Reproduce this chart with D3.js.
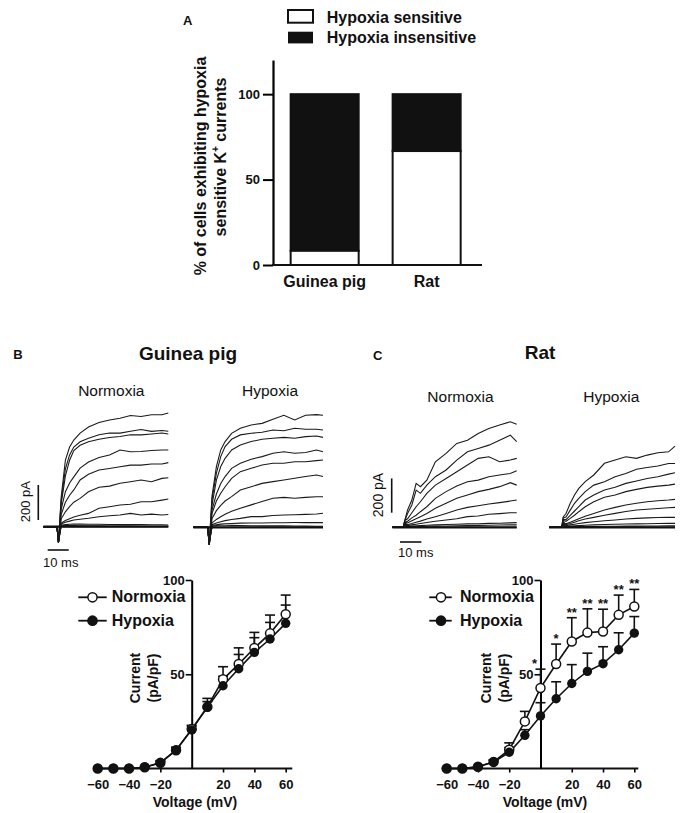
<!DOCTYPE html>
<html><head><meta charset="utf-8">
<script src="https://cdn.jsdelivr.net/npm/d3@7"></script>
<style>body{margin:0;background:#fff}svg{display:block;font-family:Arial,"Liberation Sans",sans-serif}</style>
</head><body><svg id="fig" width="680" height="813"></svg>
<script>
// panel A
let species=["Guinea pig","Rat"];
let pctSensitive=[8.3,66.7];
let pctTicks=[0,50,100];

// I-V curves
let volts=[-60,-50,-40,-30,-20,-10,0,10,20,30,40,50,60];
let gpNorm=[0,0,0,0.7,3,9.7,20.9,32.7,47.3,55.4,63.9,71.7,81.8];
let gpNormSem=[0,0,0,0,1,1.5,2,4.5,6.7,8.6,8.3,9.7,10.2];
let gpHyp=[0,0,0,0.7,3,9.7,20.5,32.5,43.9,52.9,61.6,68.7,77];
let gpHypSem=[0,0,0,0,1,1.5,2,3,5,7.6,7.8,8.8,9.7];
let ratNorm=[0,0,0.9,3.5,10,25,42.7,55.4,67.4,72.1,72.7,81.5,85.9];
let ratNormSem=[0,0,0,1,3.6,5.3,10,10.6,12.6,12.6,11.8,10.5,9.1];
let ratHyp=[0,0,0.9,3.5,8.6,17.6,27.9,37,45.1,51.5,55.6,63,71.8];
let ratHypSem=[0,0,0,1,2.5,3,7,9,10,9.7,9,9,8.8];
let ratStars=["","","","","","","*","*","**","**","**","**","**"];
let vTicks=[-60,-40,-20,20,40,60];
let iTicks=[50,100];

// current traces (pA) sampled at these times (ms after the step)
let traceTimes=[0,0.7,2,4,6,8,11,15,20,25,30,35,40,45,50,53];
let gpNormTr=[
[0,-90,170,380,455,495,535,570,595,610,620,635,630,640,640,650],
[0,-90,150,330,410,455,485,505,525,535,535,545,555,545,550,545],
[0,-90,130,290,380,435,465,485,500,510,515,525,525,530,535,530],
[0,-90,100,200,250,285,335,370,395,410,438,428,430,435,438,438],
[0,-90,70,140,180,210,267,300,324,333,343,352,352,358,358,366],
[0,-90,45,85,115,140,162,200,225,232,248,257,267,257,276,280],
[0,-90,20,35,45,55,65,76,105,114,124,128,143,143,152,158],
[0,-90,15,25,32,38,43,48,57,63,67,76,67,72,67,70],
[0,-90,8,12,14,15,15,14,14,13,12,12,12,11,11,10],
[0,-80,5,6,6,6,5,5,5,4,4,4,3,3,3,3],
[0,-60,0,0,0,0,0,0,0,0,0,0,0,0,0,0]];
let gpHypTr=[
[0,-100,180,347,442,490,537,566,585,594,617,640,613,640,644,640],
[0,-100,160,310,404,461,503,528,537,543,556,552,566,560,560,556],
[0,-100,130,270,347,394,442,470,490,503,509,514,509,518,522,514],
[0,-100,100,190,250,290,337,366,389,404,423,432,423,427,442,432],
[0,-100,80,150,195,232,280,318,337,356,366,366,375,375,381,385],
[0,-100,50,95,125,150,175,213,232,251,261,270,280,290,299,290],
[0,-100,25,45,60,75,92,109,128,147,166,171,166,171,175,175],
[0,-100,15,25,32,38,45,51,61,61,67,70,72,74,76,80],
[0,-95,10,15,18,20,22,24,25,25,26,26,27,27,27,27],
[0,-85,6,10,12,12,11,10,9,8,8,8,7,7,6,6],
[0,-70,0,0,0,0,0,0,0,0,0,0,0,0,0,0]];
let ratNormTr=[
[0,40,101,159,256,237,275,382,431,489,508,547,576,596,615,601],
[0,40,80,130,217,198,246,295,334,392,440,460,479,508,537,499],
[0,40,50,85,120,149,198,246,285,324,363,402,411,382,392,402],
[0,30,35,55,70,91,120,169,208,241,266,275,295,305,314,330],
[0,30,25,38,50,62,81,111,140,169,188,208,221,237,260,246],
[0,25,15,22,30,36,48,62,81,101,116,126,136,144,153,159],
[0,25,10,14,18,22,28,35,43,50,62,66,76,80,85,85],
[0,20,5,7,9,10,12,14,16,18,20,21,23,24,26,27],
[0,15,3,4,5,5,6,7,8,9,10,11,12,13,14,14],
[0,10,0,0,0,0,0,0,0,0,0,0,0,0,0,0]];
let ratHypTr=[
[0,60,80,140,188,227,266,305,373,392,411,402,421,435,440,473],
[0,55,60,100,140,169,208,246,266,295,314,338,349,357,372,372],
[0,45,45,70,95,120,159,188,217,233,256,270,285,295,310,318],
[0,40,35,52,70,91,120,149,175,188,208,221,233,240,246,252],
[0,30,20,30,40,50,65,81,101,116,130,140,149,155,159,163],
[0,30,15,22,30,38,48,58,70,81,92,101,105,110,114,116],
[0,25,10,14,18,22,27,32,38,43,48,52,55,57,58,58],
[0,20,5,7,9,10,12,14,16,18,19,20,21,22,23,23],
[0,15,2,3,4,4,5,5,6,6,7,7,8,8,9,9],
[0,10,0,0,0,0,0,0,0,0,0,0,0,0,0,0]];

const svg=d3.select("#fig");
const ink="#111";

function txt(g,s,x,y,size,weight,anchor){
  return g.append("text").text(s).attr("x",x).attr("y",y).style("font-size",size+"px")
    .style("font-weight",weight).attr("text-anchor",anchor||"start").attr("fill",ink);
}
function vtxt(g,s,x,y,size,weight){
  return g.append("text").text(s).attr("transform","translate("+x+","+y+") rotate(-90)")
    .style("font-size",size+"px").style("font-weight",weight).attr("text-anchor","middle").attr("fill",ink);
}

// ---------- A: stacked bars
let gA=svg.append("g");
let yA=d3.scaleLinear().domain([0,120]).range([265,60]);
let xA=d3.scaleBand().domain(species).range([273,478.3]).paddingInner(0.333).paddingOuter(0.173);
species.forEach((s,i)=>{
  gA.append("rect").attr("x",xA(s)).attr("width",xA.bandwidth()).attr("y",yA(100))
    .attr("height",yA(pctSensitive[i])-yA(100)).attr("fill",ink).attr("stroke",ink).attr("stroke-width",2);
  gA.append("rect").attr("x",xA(s)).attr("width",xA.bandwidth()).attr("y",yA(pctSensitive[i]))
    .attr("height",yA(0)-yA(pctSensitive[i])).attr("fill","#fff").attr("stroke",ink).attr("stroke-width",2);
  txt(gA,s,xA(s)+xA.bandwidth()/2,287,16,"bold","middle");
});
let axA=gA.append("g").attr("transform","translate(273,0)")
  .call(d3.axisLeft(yA).tickValues(pctTicks).tickSize(10).tickPadding(3).tickSizeOuter(0));
axA.select(".domain").attr("stroke-width",2.2);
axA.selectAll(".tick line").attr("stroke-width",2);
axA.selectAll(".tick text").style("font-size","13px").style("font-weight","bold").attr("fill",ink);
gA.append("line").attr("x1",272).attr("x2",482).attr("y1",265).attr("y2",265).attr("stroke",ink).attr("stroke-width",2.2);
vtxt(gA,"% of cells exhibiting hypoxia",206,166,16,"bold");
let l2=vtxt(gA,"sensitive K",226,157,16,"bold");
l2.append("tspan").text("+").style("font-size","10px").attr("dy",-7);
l2.append("tspan").text(" currents").attr("dy",7);
gA.append("rect").attr("x",288).attr("y",10).attr("width",25).attr("height",12.7).attr("fill","#fff").attr("stroke",ink).attr("stroke-width",2);
gA.append("rect").attr("x",288).attr("y",31.7).attr("width",25).attr("height",11.7).attr("fill",ink);
txt(gA,"Hypoxia sensitive",326.7,22.7,16,"bold");
txt(gA,"Hypoxia insensitive",326.7,42.7,16,"bold");
txt(gA,"A",183,25,13,"bold");

// ---------- traces
function drawTraces(tr,x0,x1,tPre,y0,px200){
  let g=svg.append("g");
  let sx=d3.scaleLinear().domain([0,53]).range([x0,x1]);
  let sy=d3.scaleLinear().domain([0,200]).range([y0,y0-px200]);
  let line=d3.line().x(d=>sx(d[0])).y(d=>sy(d[1]));
  tr.forEach(vals=>{
    let pts=[[tPre,0]].concat(traceTimes.map((t,i)=>[t,vals[i]]));
    g.append("path").attr("d",line(pts)).attr("fill","none").attr("stroke","#1a1a1a").attr("stroke-width",1.1);
  });
  g.append("line").attr("x1",sx(tPre)).attr("x2",sx(53)).attr("y1",y0).attr("y2",y0).attr("stroke",ink).attr("stroke-width",2.2);
  return {sx,sy};
}
let gpN=drawTraces(gpNormTr,57,168.3,-6.5,526.7,35);
drawTraces(gpHypTr,207.7,323,-6.6,527.3,35);
let ratN=drawTraces(ratNormTr,403.3,516.7,-5.1,527.3,34.3);
drawTraces(ratHypTr,561.7,675,-5.9,527.3,34.3);

let gT=svg.append("g");
// scale bars
gT.append("line").attr("x1",38.3).attr("x2",38.3).attr("y1",520).attr("y2",520-(gpN.sy(0)-gpN.sy(200))).attr("stroke",ink).attr("stroke-width",1.6);
gT.append("line").attr("x1",47.7).attr("x2",47.7+gpN.sx(10)-gpN.sx(0)).attr("y1",550).attr("y2",550).attr("stroke",ink).attr("stroke-width",1.6);
gT.append("line").attr("x1",391.7).attr("x2",391.7).attr("y1",512.7).attr("y2",512.7-(ratN.sy(0)-ratN.sy(200))).attr("stroke",ink).attr("stroke-width",1.6);
gT.append("line").attr("x1",400).attr("x2",400+ratN.sx(10)-ratN.sx(0)).attr("y1",542).attr("y2",542).attr("stroke",ink).attr("stroke-width",1.6);
vtxt(gT,"200 pA",29.5,501.7,13,"normal");
vtxt(gT,"200 pA",383,495,14,"normal");
txt(gT,"10 ms",43,567,13,"normal");
txt(gT,"10 ms",398,557,13,"normal");
txt(gT,"B",13.3,359,13,"bold");
txt(gT,"C",373,360,13,"bold");
txt(gT,"Guinea pig",188,360,19,"bold","middle");
txt(gT,"Rat",540,359,19,"bold","middle");
txt(gT,"Normoxia",111.3,395.7,15.5,"normal","middle");
txt(gT,"Hypoxia",270,395.7,15.5,"normal","middle");
txt(gT,"Normoxia",460.5,401.7,15.5,"normal","middle");
txt(gT,"Hypoxia",611.3,401.7,15.5,"normal","middle");

// ---------- I-V plots
function ivPlot(norm,normSem,hyp,hypSem,stars,xl,xr,axL,axR,lg,labs){
  let g=svg.append("g");
  let sx=d3.scaleLinear().domain([-60,60]).range([xl,xr]);
  let sy=d3.scaleLinear().domain([0,100]).range([768.5,580]);
  let gx=g.append("g").attr("transform","translate(0,"+sy(0)+")")
    .call(d3.axisBottom(sx).tickValues(vTicks).tickSize(4).tickPadding(7).tickFormat(d3.format("d")));
  gx.select(".domain").remove();
  gx.selectAll(".tick line").attr("stroke-width",1.6);
  gx.selectAll(".tick text").style("font-size","13px").style("font-weight","bold").attr("fill",ink);
  g.append("line").attr("x1",axL).attr("x2",axR).attr("y1",sy(0)).attr("y2",sy(0)).attr("stroke",ink).attr("stroke-width",2);
  let gy=g.append("g").attr("transform","translate("+sx(0)+",0)")
    .call(d3.axisLeft(sy).tickValues(iTicks).tickSize(6).tickPadding(1).tickSizeOuter(0));
  gy.select(".domain").attr("stroke-width",2);
  gy.selectAll(".tick line").attr("stroke-width",1.6);
  gy.selectAll(".tick text").style("font-size","13px").style("font-weight","bold").attr("fill",ink);

  [[norm,normSem],[hyp,hypSem]].forEach(([v,s])=>{
    volts.forEach((x,i)=>{
      if(s[i]<=0) return;
      g.append("line").attr("x1",sx(x)).attr("x2",sx(x)).attr("y1",sy(v[i])).attr("y2",sy(v[i]+s[i])).attr("stroke",ink).attr("stroke-width",1.6);
      g.append("line").attr("x1",sx(x)-5).attr("x2",sx(x)+5).attr("y1",sy(v[i]+s[i])).attr("y2",sy(v[i]+s[i])).attr("stroke",ink).attr("stroke-width",1.6);
    });
  });
  let line=d3.line().x((d,i)=>sx(volts[i])).y(d=>sy(d));
  g.append("path").attr("d",line(norm)).attr("fill","none").attr("stroke",ink).attr("stroke-width",1.6);
  g.append("path").attr("d",line(hyp)).attr("fill","none").attr("stroke",ink).attr("stroke-width",1.6);
  g.selectAll(".pn").data(norm).enter().append("circle").attr("cx",(d,i)=>sx(volts[i])).attr("cy",d=>sy(d))
    .attr("r",4.5).attr("fill","#fff").attr("stroke",ink).attr("stroke-width",1.5);
  g.selectAll(".ph").data(hyp).enter().append("circle").attr("cx",(d,i)=>sx(volts[i])).attr("cy",d=>sy(d))
    .attr("r",4.7).attr("fill",ink);
  if(stars){
    stars.forEach((s,i)=>{
      if(s) txt(g,s,sx(volts[i])-(volts[i]===0?6:0),sy(norm[i]+normSem[i])-1,13,"bold","middle");
    });
  }
  // legend
  [["Normoxia","#fff",602.3],["Hypoxia",ink,625.7]].forEach(([name,fill,yb])=>{
    g.append("line").attr("x1",lg[0]).attr("x2",lg[1]).attr("y1",yb-5).attr("y2",yb-5).attr("stroke",ink).attr("stroke-width",1.8);
    g.append("circle").attr("cx",lg[2]).attr("cy",yb-5).attr("r",4.6).attr("fill",fill).attr("stroke",ink).attr("stroke-width",1.5);
    txt(g,name,lg[3],yb,16,"bold");
  });
  txt(g,"Voltage (mV)",labs[0],806.7,14,"bold","middle");
  vtxt(g,"Current",labs[1],678,14,"bold");
  vtxt(g,"(pA/pF)",labs[2],678,14,"bold");
}
ivPlot(gpNorm,gpNormSem,gpHyp,gpHypSem,null,97.7,285.7,93.3,292.3,[78.3,106.7,92.5,111.7],[195,140,158]);
ivPlot(ratNorm,ratNormSem,ratHyp,ratHypSem,ratStars,446.7,634.3,441.7,638.3,[429.3,451.7,441,460],[545,491,509]);
</script></body></html>
